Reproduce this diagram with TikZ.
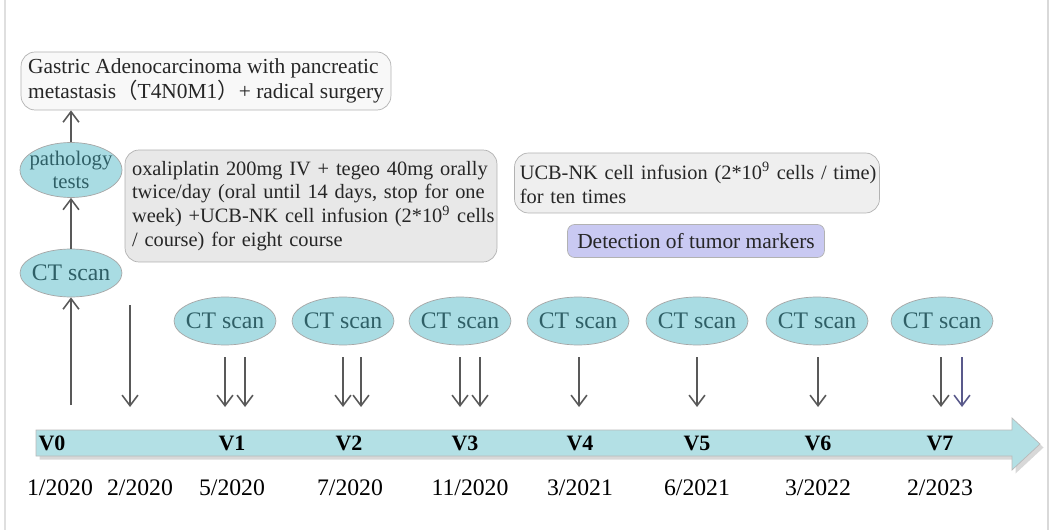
\documentclass[tikz,border=0pt]{standalone}
\usepackage{fontspec}
\setmainfont{Liberation Serif}
\newfontfamily\cjk{Noto Sans CJK SC}
\usetikzlibrary{shapes.geometric,shadows,arrows.meta}
\definecolor{scanfill}{HTML}{A9DCE3}
\definecolor{scantext}{HTML}{2F5F66}
\definecolor{lineblue}{HTML}{B3E0E5}
\definecolor{notegray}{HTML}{E8E8E8}
\definecolor{topgray}{HTML}{F8F8F8}
\definecolor{detectfill}{HTML}{C9C9F2}

\begin{document}
\begin{tikzpicture}[x=0.02cm,y=-0.02cm,
    >={Straight Barb[length=6pt,width=9pt]},
    every node/.style={font=\fontsize{11.6}{13.6}\selectfont},
    scan/.style={ellipse,draw=gray!70,fill=scanfill,text=scantext,
        font=\fontsize{13.5}{14}\selectfont,
        minimum width=2.04cm,minimum height=0.96cm,inner xsep=-2pt,inner ysep=2pt,align=center},
    note/.style={draw=gray!60,rounded corners=8pt,align=left,text=black!85,
        inner xsep=4pt,inner ysep=0pt},
    pil/.style={->,draw=black!65,line width=0.9pt}]
        \useasboundingbox[fill=white] (0,0) rectangle (1051,530);
        \draw[gray!25,line width=1pt] (5,0) -- (5,530);
        \draw[gray!30,line width=1.5pt] (1048,0) -- (1048,530);
        % time axis
        \filldraw[fill=lineblue,draw=gray!55,
            drop shadow={opacity=0.3,shadow xshift=2pt,shadow yshift=-2pt}]
            (36,430) -- (1012,430) -- (1012,418) -- (1040,444)
            -- (1012,470) -- (1012,456) -- (36,456) -- cycle;
        \foreach \i/\x in {0/52,1/232,2/349,3/465,4/580,5/697,6/818,7/940}{
            \node[font=\fontsize{12.5}{13.6}\selectfont\bfseries] (v\i) at (\x,443) {V\i};
        }
        \foreach \n/\x/\d in {a/60/1\slash 2020,b/140/2\slash 2020,c/232/5\slash 2020,
            d/350/7\slash 2020,e/470/11\slash 2020,f/580/3\slash 2021,
            g/697/6\slash 2021,h/818/3\slash 2022,i/940/2\slash 2023}{
            \node[font=\fontsize{13.5}{14}\selectfont] (d\n) at (\x,488) {\d};
        }
        % start column
        \node[scan] (ct0) at (71,273) {CT scan};
        \node[scan,minimum height=1.1cm,inner xsep=-6pt,inner ysep=-4pt,
            font=\fontsize{11.8}{13}\selectfont] (patho) at (71,170) {pathology\\tests};
        \node[note,fill=topgray,minimum width=7.34cm,minimum height=1.16cm,
            font=\fontsize{12.2}{14}\selectfont] (diag) at (206,81)
            {Gastric Adenocarcinoma with pancreatic\\metastasis{\cjk （}T4N0M1{\cjk ）}+ radical surgery};
        \coordinate (s0) at (71,405);
        \draw[pil] (s0) -- (ct0);
        \draw[pil] (ct0) -- (patho);
        \draw[pil] (patho) -- (patho.north |- diag.south);
        \coordinate (c1) at (130,305);
        \coordinate (c2) at (130,407);
        \draw[pil] (c1) -- (c2);
        % treatment boxes
        \node[note,fill=notegray,text width=7.44cm-8pt,minimum height=2.24cm] (chemo) at (311,206)
            {\mbox{oxaliplatin 200mg IV + tegeo 40mg orally}\\\mbox{twice/day (oral until 14 days, stop for one}\\\mbox{week) +UCB-NK cell infusion (2*10\textsuperscript{9} cells}\\/ course) for eight course};
        \node[note,fill=notegray!70,inner xsep=3pt,text width=7.3cm-6pt,minimum height=1.2cm] (nk) at (697,183)
            {\mbox{UCB-NK cell infusion (2*10\textsuperscript{9} cells / time)}\\for ten times};
        \node[note,fill=detectfill,rounded corners=4pt,minimum width=5.14cm,minimum height=0.66cm,
            align=center,font=\fontsize{12.2}{14}\selectfont] (mark) at (696,241)
            {Detection of tumor markers};
        % follow-up scans
        \foreach \i/\x in {1/225,2/343,3/460,4/578,5/697,6/817,7/942}{
            \node[scan] (ct\i) at (\x,321) {CT scan};
        }
        \foreach \x in {225,245,343,361,460,480,579,697,818,941}{
            \coordinate (p\x) at (\x,357);
            \coordinate (q\x) at (\x,407);
            \draw[pil] (p\x) -- (q\x);
        }
        \coordinate (p962) at (962,357);
        \coordinate (q962) at (962,407);
        \draw[pil,draw=blue!30!black!65] (p962) -- (q962);
\end{tikzpicture}
\end{document}
